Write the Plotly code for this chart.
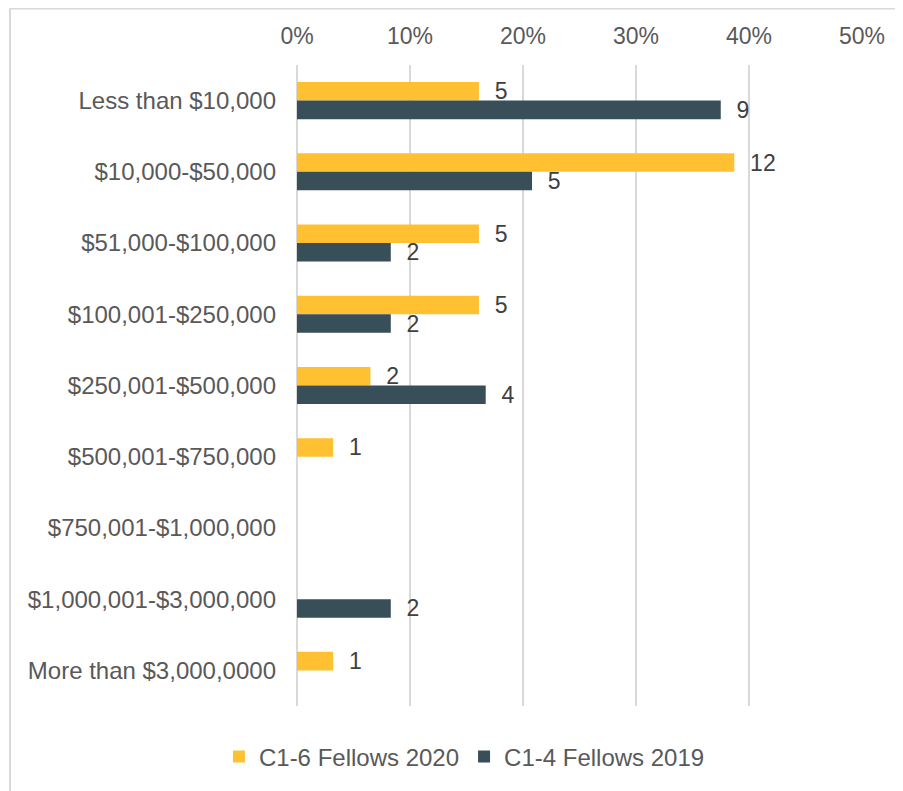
import plotly.graph_objects as go

# Revenue bands (top to bottom)
categories = [
    "Less than $10,000",
    "$10,000-$50,000",
    "$51,000-$100,000",
    "$100,001-$250,000",
    "$250,001-$500,000",
    "$500,001-$750,000",
    "$750,001-$1,000,000",
    "$1,000,001-$3,000,000",
    "More than $3,000,0000",
]

# number of fellows in each band
counts_2020 = [5, 12, 5, 5, 2, 1, 0, 0, 1]
counts_2019 = [9, 5, 2, 2, 4, 0, 0, 2, 0]

# share of fellows (bar length)
share_2020 = [0.161, 0.387, 0.161, 0.161, 0.065, 0.032, 0.0, 0.0, 0.032]
share_2019 = [0.375, 0.208, 0.083, 0.083, 0.167, 0.0, 0.0, 0.083, 0.0]

x_ticks = [0, 0.1, 0.2, 0.3, 0.4, 0.5]

YELLOW = "#FFC132"
SLATE = "#384E59"
GRID = "#D9D9D9"
FONT = "Liberation Sans, Arial, sans-serif"


def labels(counts):
    # Excel leaves zero bars unlabelled
    return ["  " + str(c) if c else "" for c in counts]


fig = go.Figure()
fig.add_trace(go.Bar(
    y=categories, x=share_2020, orientation="h", name="C1-6 Fellows 2020",
    marker=dict(color=YELLOW, line=dict(width=0)),
    text=labels(counts_2020), textposition="outside", constraintext="none",
    textfont=dict(size=23, color="#404040"), cliponaxis=False,
))
fig.add_trace(go.Bar(
    y=categories, x=share_2019, orientation="h", name="C1-4 Fellows 2019",
    marker=dict(color=SLATE, line=dict(width=0)),
    text=labels(counts_2019), textposition="outside", constraintext="none",
    textfont=dict(size=23, color="#404040"), cliponaxis=False,
))

# page body adds an 8px margin, so the figure is 16px smaller than the window
fig.update_layout(
    width=895, height=783,
    margin=dict(l=289, r=41, t=57, b=85),
    barmode="group", bargap=0.48, bargroupgap=0,
    plot_bgcolor="white", paper_bgcolor="white",
    font=dict(family=FONT, size=24, color="#595959"),
    showlegend=True,
    legend=dict(
        orientation="h", xref="container", yref="container",
        x=0.51, y=0.0434, xanchor="center", yanchor="middle",
        font=dict(size=24, color="#595959"), itemwidth=30,
    ),
    xaxis=dict(
        side="top", range=[0, 0.5], tickvals=x_ticks, tickformat=".0%",
        showgrid=True, gridcolor=GRID, gridwidth=2,
        zeroline=True, zerolinecolor=GRID, zerolinewidth=2,
        showline=False, ticks="", ticklabelstandoff=15,
        tickfont=dict(size=23, color="#595959"),
    ),
    yaxis=dict(
        autorange="reversed", showgrid=False, zeroline=False, showline=False,
        ticks="", ticklabelstandoff=20,
        tickfont=dict(size=24, color="#595959"),
    ),
    shapes=[
        # chart frame (top and left edges visible in the reference)
        dict(type="line", xref="paper", yref="paper",
             x0=-0.508, x1=1.08, y0=1.088, y1=1.088,
             line=dict(color=GRID, width=2)),
        dict(type="line", xref="paper", yref="paper",
             x0=-0.508, x1=-0.508, y0=1.088, y1=-0.14,
             line=dict(color=GRID, width=2)),
    ],
)

fig.write_html("out.html")
